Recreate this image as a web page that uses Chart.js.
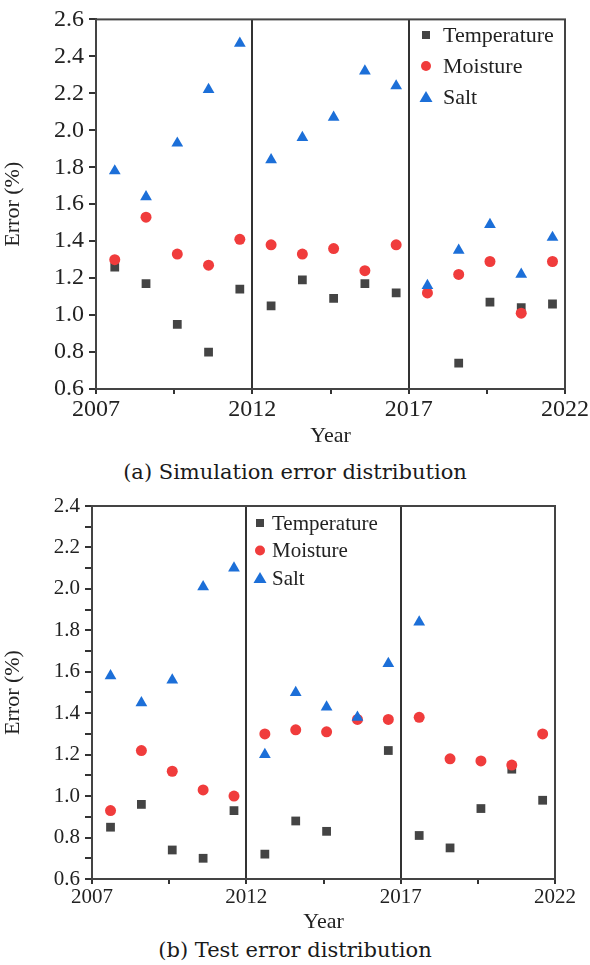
<!DOCTYPE html>
<html>
<head>
<meta charset="utf-8">
<script src="https://cdn.jsdelivr.net/npm/chart.js@4"></script>
<style>
  body { margin: 0; background: #fff; width: 590px; height: 965px; position: relative; font-family: 'Liberation Serif', serif; color: #222; }
  .box { position: absolute; left: 0; width: 590px; height: 450px; }
  .cap { position: absolute; left: 0; width: 590px; text-align: center; font-family: 'DejaVu Serif', serif; font-size: 21px; line-height: 26px; color: #1a1a1a; }
</style>
</head>
<body>
<div class="box" style="top:0"><canvas id="chartA"></canvas></div>
<div class="cap" style="top:459px">(a) Simulation error distribution</div>
<div class="box" style="top:486px"><canvas id="chartB"></canvas></div>
<div class="cap" style="top:937px">(b) Test error distribution</div>
<script>
// x position of each point (one per year, between the year ticks)
const xPos = [2007.6, 2008.6, 2009.6, 2010.6, 2011.6, 2012.6, 2013.6, 2014.6,
              2015.6, 2016.6, 2017.6, 2018.6, 2019.6, 2020.6, 2021.6];
const yearLabels = [2007, 2012, 2017, 2022];
const dividers = [2012, 2017];
const seriesNames = ['Temperature', 'Moisture', 'Salt'];

// (a) simulation error
const simTemp  = [1.26, 1.17, 0.95, 0.80, 1.14, 1.05, 1.19, 1.09, 1.17, 1.12, null, 0.74, 1.07, 1.04, 1.06];
const simMoist = [1.30, 1.53, 1.33, 1.27, 1.41, 1.38, 1.33, 1.36, 1.24, 1.38, 1.12, 1.22, 1.29, 1.01, 1.29];
const simSalt  = [1.78, 1.64, 1.93, 2.22, 2.47, 1.84, 1.96, 2.07, 2.32, 2.24, 1.16, 1.35, 1.49, 1.22, 1.42];

// (b) test error
const testTemp  = [0.85, 0.96, 0.74, 0.70, 0.93, 0.72, 0.88, 0.83, null, 1.22, 0.81, 0.75, 0.94, 1.13, 0.98];
const testMoist = [0.93, 1.22, 1.12, 1.03, 1.00, 1.30, 1.32, 1.31, 1.37, 1.37, 1.38, 1.18, 1.17, 1.15, 1.30];
const testSalt  = [1.58, 1.45, 1.56, 2.01, 2.10, 1.20, 1.50, 1.43, 1.38, 1.64, 1.84, null, null, null, null];

const colors = ['#444444', '#f03c3c', '#1c6fd8'];
const styles = ['rect', 'circle', 'triangle'];
const radii = [6.2, 5.5, 6.8];
const FAMILY = "'Liberation Serif', 'Times New Roman', serif";

function toPoints(arr) {
    return xPos.map((x, i) => ({ x: x, y: arr[i] })).filter(p => p.y !== null);
}

// box around the plot area + legend drawn inside it
const frameAndLegend = {
    id: 'frameAndLegend',
    afterDraw(chart, args, opts) {
        const ctx = chart.ctx;
        const a = chart.chartArea;
        ctx.save();
        ctx.strokeStyle = '#444';
        ctx.lineWidth = 2;
        ctx.strokeRect(a.left, a.top, a.right - a.left, a.bottom - a.top);

        ctx.font = opts.fontSize + 'px ' + FAMILY;
        ctx.textBaseline = 'middle';
        chart.data.datasets.forEach((ds, i) => {
            const y = opts.y + i * opts.gap;
            const x = opts.x;
            ctx.fillStyle = ds.backgroundColor;
            ctx.beginPath();
            if (ds.pointStyle === 'rect') {
                ctx.rect(x - 4, y - 4, 8, 8);
            } else if (ds.pointStyle === 'circle') {
                ctx.arc(x, y, 5, 0, Math.PI * 2);
            } else {
                ctx.moveTo(x, y - 6);
                ctx.lineTo(x + 6.5, y + 5);
                ctx.lineTo(x - 6.5, y + 5);
                ctx.closePath();
            }
            ctx.fill();
            ctx.fillStyle = '#222';
            ctx.fillText(ds.label, opts.textX, y + 1);
        });
        ctx.restore();
    }
};

function makeChart(id, series, s) {
    const ctx = document.getElementById(id).getContext('2d');
    return new Chart(ctx, {
        type: 'scatter',
        data: {
            datasets: series.map((arr, i) => ({
                label: seriesNames[i],
                data: toPoints(arr),
                pointStyle: styles[i],
                pointRadius: radii[i],
                pointHoverRadius: radii[i],
                backgroundColor: colors[i],
                borderColor: colors[i],
                borderWidth: 0,
                order: 2 - i
            }))
        },
        options: {
            responsive: true,
            maintainAspectRatio: false,
            animation: false,
            events: [],
            layout: { padding: { top: s.padTop, right: s.padRight, left: 0, bottom: 0 } },
            plugins: {
                legend: { display: false },
                tooltip: { enabled: false },
                frameAndLegend: s.legend
            },
            scales: {
                x: {
                    type: 'linear',
                    min: 2007,
                    max: 2022,
                    afterFit: sc => { sc.height = s.xHeight; },
                    ticks: {
                        stepSize: 2.5,
                        autoSkip: false,
                        maxRotation: 0,
                        padding: 1,
                        color: '#222',
                        font: { family: FAMILY, size: s.tickSize },
                        callback: v => yearLabels.includes(v) ? String(v) : ''
                    },
                    grid: {
                        drawOnChartArea: true,
                        color: c => (c.tick && dividers.includes(c.tick.value)) ? '#333' : 'rgba(0,0,0,0)',
                        tickColor: '#333',
                        lineWidth: 2,
                        tickLength: 5
                    },
                    border: { color: '#333', width: 2 },
                    title: {
                        display: true,
                        text: 'Year',
                        color: '#222',
                        font: { family: FAMILY, size: 22 },
                        padding: { top: 0, bottom: 1 }
                    }
                },
                y: {
                    min: s.yMin,
                    max: s.yMax,
                    afterFit: sc => { sc.width = s.yWidth; },
                    ticks: {
                        stepSize: s.yStep,
                        autoSkip: false,
                        padding: 5,
                        color: '#222',
                        font: { family: FAMILY, size: s.tickSize },
                        callback: v => Math.round(v * 10) % 2 === 0 ? v.toFixed(1) : ''
                    },
                    grid: {
                        drawOnChartArea: false,
                        tickColor: '#333',
                        lineWidth: 2,
                        tickLength: 7
                    },
                    border: { color: '#333', width: 2 },
                    title: {
                        display: true,
                        text: 'Error (%)',
                        color: '#222',
                        font: { family: FAMILY, size: 22 },
                        padding: { top: 0, bottom: 0 }
                    }
                }
            }
        },
        plugins: [frameAndLegend]
    });
}

function drawAll() {
    makeChart('chartA', [simTemp, simMoist, simSalt], {
        padTop: 19, padRight: 17, xHeight: 61, yWidth: 96,
        yMin: 0.6, yMax: 2.6, yStep: 0.2, tickSize: 24,
        legend: { x: 426, textX: 443, y: 35, gap: 31, fontSize: 22 }
    });

    makeChart('chartB', [testTemp, testMoist, testSalt], {
        padTop: 20, padRight: 35, xHeight: 57, yWidth: 92,
        yMin: 0.6, yMax: 2.4, yStep: 0.1, tickSize: 21,
        legend: { x: 260, textX: 272, y: 37, gap: 27.5, fontSize: 21 }
    });
}

document.fonts.load("22px 'Liberation Serif'").then(drawAll, drawAll);
</script>
</body>
</html>
